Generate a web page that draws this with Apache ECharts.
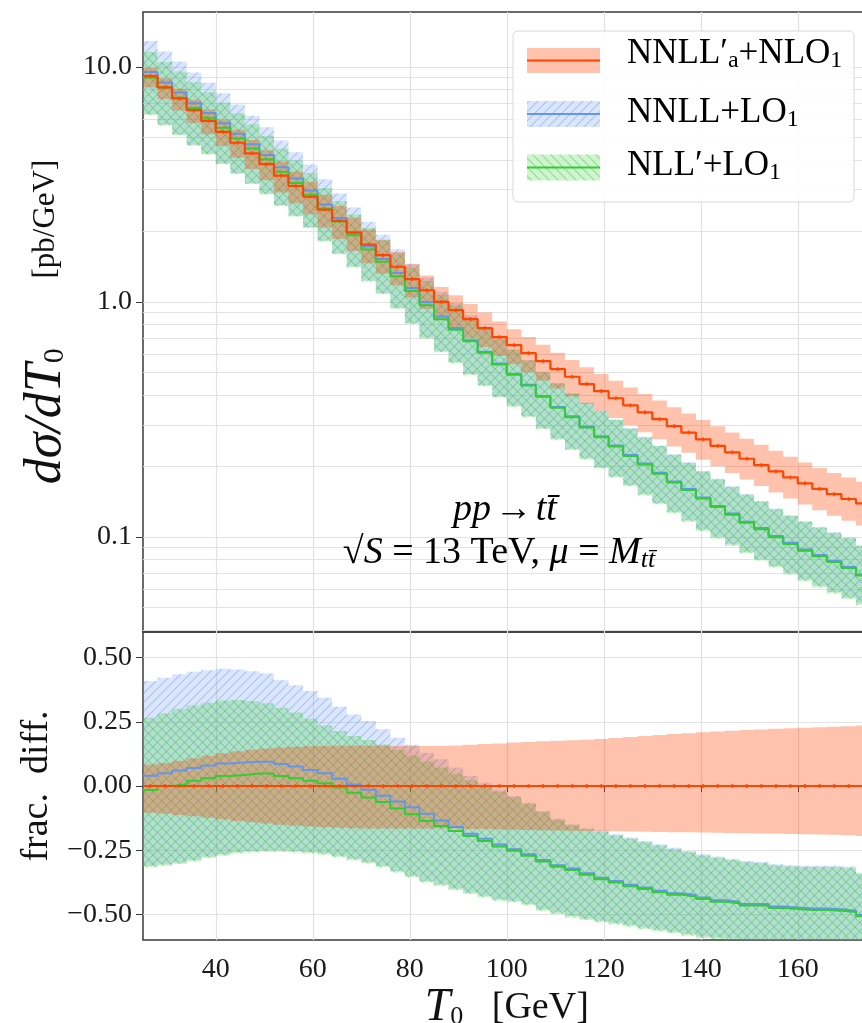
<!DOCTYPE html>
<html>
<head>
<meta charset="utf-8">
<script src="https://cdn.jsdelivr.net/npm/echarts@6/dist/echarts.min.js"></script>
<style>
  html, body { margin: 0; padding: 0; background: #fff; }
  #chart { width: 862px; height: 1023px; }
</style>
</head>
<body>
<div id="chart"></div>
<script>
// bin left edges (GeV), 3 GeV bins
const binEdges = [25, 28, 31, 34, 37, 40, 43, 46, 49, 52, 55, 58, 61, 64, 67, 70, 73, 76, 79, 82,
  85, 88, 91, 94, 97, 100, 103, 106, 109, 112, 115, 118, 121, 124, 127, 130, 133, 136, 139, 142,
  145, 148, 151, 154, 157, 160, 163, 166, 169, 172];
const lastEdge = 175;

// NNLL'a+NLO1 central value, pb/GeV (reference curve)
const refCentral = [9.13, 8.17, 7.34, 6.54, 5.89, 5.29, 4.75, 4.28, 3.85, 3.44,
  3.11, 2.80, 2.47, 2.21, 1.97, 1.75, 1.58, 1.41, 1.25, 1.12,
  1.00, 0.922, 0.844, 0.773, 0.708, 0.654, 0.605, 0.559, 0.517, 0.480,
  0.447, 0.417, 0.389, 0.363, 0.339, 0.317, 0.296, 0.278, 0.260, 0.244,
  0.229, 0.215, 0.202, 0.190, 0.179, 0.169, 0.160, 0.152, 0.145, 0.139];

// fractional differences w.r.t. refCentral (lower panel)
const refUp = [0.084, 0.090, 0.098, 0.108, 0.118, 0.128, 0.135, 0.141, 0.146, 0.150,
  0.153, 0.155, 0.156, 0.157, 0.157, 0.157, 0.157, 0.156, 0.156, 0.156,
  0.156, 0.158, 0.161, 0.164, 0.166, 0.169, 0.171, 0.174, 0.176, 0.178,
  0.180, 0.183, 0.187, 0.191, 0.195, 0.199, 0.203, 0.206, 0.209, 0.212,
  0.215, 0.218, 0.220, 0.223, 0.225, 0.227, 0.229, 0.231, 0.233, 0.236];
const refDown = [-0.104, -0.108, -0.113, -0.118, -0.124, -0.130, -0.136, -0.141, -0.146, -0.151,
  -0.155, -0.158, -0.161, -0.163, -0.165, -0.166, -0.166, -0.166, -0.166, -0.166,
  -0.166, -0.167, -0.168, -0.168, -0.169, -0.170, -0.171, -0.172, -0.173, -0.174,
  -0.175, -0.175, -0.176, -0.177, -0.178, -0.179, -0.180, -0.180, -0.181, -0.182,
  -0.183, -0.184, -0.185, -0.186, -0.187, -0.188, -0.189, -0.190, -0.192, -0.195];

const nnllCentral = [0.040, 0.050, 0.060, 0.070, 0.080, 0.088, 0.092, 0.094, 0.094, 0.086,
  0.076, 0.062, 0.050, 0.028, 0.006, -0.015, -0.038, -0.060, -0.083, -0.108,
  -0.134, -0.160, -0.186, -0.206, -0.228, -0.246, -0.266, -0.288, -0.309, -0.321,
  -0.340, -0.357, -0.370, -0.385, -0.395, -0.408, -0.418, -0.425, -0.434, -0.445,
  -0.451, -0.460, -0.460, -0.469, -0.473, -0.477, -0.477, -0.480, -0.486, -0.503];
const nnllUp = [0.409, 0.422, 0.435, 0.445, 0.451, 0.457, 0.454, 0.447, 0.438, 0.412,
  0.393, 0.370, 0.344, 0.309, 0.279, 0.253, 0.221, 0.188, 0.161, 0.130,
  0.104, 0.072, 0.039, 0.013, -0.015, -0.039, -0.065, -0.097, -0.127, -0.149,
  -0.165, -0.172, -0.188, -0.201, -0.214, -0.227, -0.241, -0.253, -0.266, -0.275,
  -0.283, -0.292, -0.296, -0.305, -0.309, -0.311, -0.311, -0.311, -0.314, -0.337];
const nnllDown = [-0.311, -0.305, -0.298, -0.288, -0.275, -0.266, -0.257, -0.253, -0.250, -0.250,
  -0.253, -0.257, -0.262, -0.272, -0.283, -0.296, -0.311, -0.331, -0.350, -0.370,
  -0.383, -0.399, -0.415, -0.428, -0.441, -0.447, -0.460, -0.480, -0.493, -0.506,
  -0.516, -0.525, -0.534, -0.542, -0.551, -0.560, -0.568, -0.577, -0.586, -0.590,
  -0.594, -0.598, -0.601, -0.604, -0.607, -0.610, -0.613, -0.616, -0.619, -0.625];

const nllCentral = [-0.016, 0.000, 0.007, 0.020, 0.030, 0.039, 0.043, 0.049, 0.049, 0.039,
  0.030, 0.020, 0.011, -0.006, -0.026, -0.045, -0.062, -0.088, -0.110, -0.136,
  -0.156, -0.175, -0.195, -0.214, -0.236, -0.252, -0.272, -0.294, -0.315, -0.327,
  -0.346, -0.363, -0.376, -0.391, -0.401, -0.414, -0.424, -0.431, -0.440, -0.451,
  -0.457, -0.466, -0.466, -0.475, -0.479, -0.483, -0.483, -0.486, -0.491, -0.507];
const nllUp = [0.266, 0.283, 0.301, 0.314, 0.324, 0.333, 0.335, 0.331, 0.322, 0.305,
  0.286, 0.262, 0.236, 0.214, 0.195, 0.179, 0.162, 0.140, 0.118, 0.095,
  0.072, 0.048, 0.022, 0.000, -0.022, -0.044, -0.070, -0.102, -0.132, -0.154,
  -0.170, -0.177, -0.193, -0.206, -0.219, -0.232, -0.246, -0.258, -0.271, -0.280,
  -0.288, -0.297, -0.301, -0.310, -0.314, -0.316, -0.316, -0.316, -0.319, -0.342];
const nllDown = [-0.317, -0.311, -0.304, -0.294, -0.281, -0.272, -0.263, -0.259, -0.256, -0.256,
  -0.259, -0.263, -0.268, -0.278, -0.289, -0.302, -0.317, -0.337, -0.356, -0.376,
  -0.389, -0.405, -0.421, -0.434, -0.447, -0.453, -0.466, -0.486, -0.499, -0.512,
  -0.522, -0.531, -0.540, -0.548, -0.557, -0.566, -0.574, -0.583, -0.592, -0.596,
  -0.600, -0.604, -0.607, -0.610, -0.613, -0.616, -0.619, -0.622, -0.625, -0.631];

// ticks
const xTicks = [40, 60, 80, 100, 120, 140, 160];
const topMajorTicks = [0.1, 1, 10];
const topMinorTicks = [0.04, 0.05, 0.06, 0.07, 0.08, 0.09, 0.2, 0.3, 0.4, 0.5, 0.6, 0.7, 0.8, 0.9,
  2, 3, 4, 5, 6, 7, 8, 9];
const ratioTicks = [-0.5, -0.25, 0, 0.25, 0.5];

const FONT = '"Liberation Serif", "DejaVu Serif", serif';
const ORANGE = '#FF4500', BLUE = '#6495ED', GREEN = '#32CD32';
const FRAME = '#3a3a3a', GRIDC = '#e2e2e2', INK = '#111';

function hatch(bg, fg, dir) {
  const s = 9, c = document.createElement('canvas');
  c.width = s; c.height = s;
  const g = c.getContext('2d');
  g.fillStyle = bg; g.fillRect(0, 0, s, s);
  g.strokeStyle = fg; g.lineWidth = 1.1;
  g.beginPath();
  if (dir > 0) {
    g.moveTo(-1, s + 1); g.lineTo(s + 1, -1);
    g.moveTo(-1, 1); g.lineTo(1, -1);
    g.moveTo(s - 1, s + 1); g.lineTo(s + 1, s - 1);
  } else {
    g.moveTo(-1, -1); g.lineTo(s + 1, s + 1);
    g.moveTo(s - 1, -1); g.lineTo(s + 1, 1);
    g.moveTo(-1, s - 1); g.lineTo(1, s + 1);
  }
  g.stroke();
  return { image: c, repeat: 'repeat' };
}

const blueFill = hatch('rgba(100,149,237,0.23)', 'rgba(100,149,237,0.45)', 1);
const greenFill = hatch('rgba(50,205,50,0.23)', 'rgba(50,205,50,0.45)', -1);
const orangeFill = 'rgba(255,69,0,0.32)';

const steps = vals => binEdges.map((e, i) => [e, vals[i]]).concat([[lastEdge, vals[vals.length - 1]]]);
const onRef = frac => refCentral.map((r, i) => r * (1 + frac[i]));
const refRatio = refCentral.map(r => r / r - 1);
const binEnd = i => (i + 1 < binEdges.length ? binEdges[i + 1] : lastEdge);

// filled band between lo and hi, drawn as one stepped polygon through the axis scales
function band(lo, hi, xi, yi, fill) {
  return {
    type: 'custom', xAxisIndex: xi, yAxisIndex: yi, silent: true, clip: true,
    data: binEdges.map((e, i) => [e, lo[i], hi[i]]),
    encode: { x: 0, y: [1, 2] },
    renderItem: function (params, api) {
      if (params.dataIndex !== 0) return null;
      const top = [], bot = [];
      for (let i = 0; i < binEdges.length; i++) {
        top.push(api.coord([binEdges[i], hi[i]]), api.coord([binEnd(i), hi[i]]));
        bot.push(api.coord([binEdges[i], lo[i]]), api.coord([binEnd(i), lo[i]]));
      }
      return { type: 'polygon', shape: { points: top.concat(bot.reverse()) }, style: { fill: fill } };
    }
  };
}
function curve(vals, xi, yi, color, w) {
  return { type: 'line', xAxisIndex: xi, yAxisIndex: yi, step: 'end', symbol: 'none', silent: true,
    lineStyle: { color: color, width: w }, data: steps(vals) };
}
function marks(vals, xi, yi) {
  return { type: 'scatter', xAxisIndex: xi, yAxisIndex: yi, symbol: 'rect', symbolSize: [2, 4],
    silent: true, itemStyle: { color: ORANGE }, data: binEdges.map((e, i) => [e + 1.5, vals[i]]) };
}

const labelFont = { fontFamily: FONT, fontSize: 28, color: '#1a1a1a' };
const fmtTop = v => (v >= 1 ? v.toFixed(1) : String(v));
const fmtRatio = v => v.toFixed(2).replace('-', '\u2212');

const xBase = i => ({
  type: 'value', gridIndex: i, min: 25, max: lastEdge,
  axisLine: { show: false },
  axisTick: { show: i === 1, customValues: xTicks, length: 6, lineStyle: { color: FRAME } },
  axisLabel: Object.assign({ show: i === 1, customValues: xTicks, margin: 16 }, labelFont),
  splitLine: { show: true, lineStyle: { color: GRIDC, width: 1.2 } }
});

const subRich = (size, main, sub, drop) => ({
  m: { fontFamily: FONT, fontSize: size, lineHeight: main, color: INK },
  i: { fontFamily: FONT, fontStyle: 'italic', fontSize: size, lineHeight: main, color: INK },
  s: { fontFamily: FONT, fontSize: sub, lineHeight: drop, verticalAlign: 'bottom', color: INK },
  si: { fontFamily: FONT, fontStyle: 'italic', fontSize: sub, lineHeight: drop, verticalAlign: 'bottom', color: INK }
});

const chart = echarts.init(document.getElementById('chart'));
chart.setOption({
  animation: false,
  backgroundColor: '#fff',
  grid: [
    { left: 143, top: 12, width: 727.5, height: 620, show: true, borderColor: FRAME, borderWidth: 1.5,
      outerBoundsMode: 'none' },
    { left: 143, top: 632, width: 727.5, height: 308, show: true, borderColor: FRAME, borderWidth: 1.5,
      outerBoundsMode: 'none' }
  ],
  xAxis: [
    xBase(0),
    Object.assign(xBase(1), {
      name: '{t|T}{s|0}{n|   [GeV]}', nameLocation: 'middle', nameGap: 36,
      nameTextStyle: { fontFamily: FONT, color: INK, rich: {
        t: { fontFamily: FONT, fontStyle: 'italic', fontSize: 46, lineHeight: 44, color: INK },
        s: { fontFamily: FONT, fontSize: 26, lineHeight: 24, verticalAlign: 'bottom', color: INK },
        n: { fontFamily: FONT, fontSize: 38, lineHeight: 44, color: INK } } }
    })
  ],
  yAxis: [
    { type: 'log', gridIndex: 0, min: 0.0394, max: 17.1,
      axisLine: { show: false },
      axisTick: { customValues: topMajorTicks, length: 7, lineStyle: { color: FRAME } },
      axisLabel: Object.assign({ customValues: topMajorTicks, formatter: fmtTop, margin: 11 }, labelFont),
      splitLine: { show: true, lineStyle: { color: GRIDC, width: 1.2 } },
      name: '{i|d\u03c3/d}{t|T}{s|0}{n|         [pb/GeV]}', nameLocation: 'middle', nameRotate: 90, nameGap: 56,
      nameTextStyle: { fontFamily: FONT, color: INK, rich: {
        i: { fontFamily: FONT, fontStyle: 'italic', fontSize: 52, lineHeight: 48, color: INK },
        t: { fontFamily: FONT, fontStyle: 'italic', fontSize: 52, lineHeight: 48, color: INK },
        s: { fontFamily: FONT, fontSize: 30, lineHeight: 26, verticalAlign: 'bottom', color: INK },
        n: { fontFamily: FONT, fontSize: 31, lineHeight: 48, color: INK } } }
    },
    { type: 'log', gridIndex: 0, min: 0.0394, max: 17.1,
      axisLine: { show: false },
      axisTick: { customValues: topMinorTicks, length: 4, lineStyle: { color: FRAME } },
      axisLabel: { show: false, customValues: topMinorTicks },
      splitLine: { show: true, lineStyle: { color: GRIDC, width: 1.2 } }
    },
    { type: 'value', gridIndex: 1, min: -0.6, max: 0.6,
      axisLine: { show: false },
      axisTick: { customValues: ratioTicks, length: 7, lineStyle: { color: FRAME } },
      axisLabel: Object.assign({ customValues: ratioTicks, formatter: fmtRatio, margin: 11 }, labelFont),
      splitLine: { show: true, lineStyle: { color: GRIDC, width: 1.2 } },
      name: 'frac.  diff.', nameLocation: 'middle', nameRotate: 90, nameGap: 75,
      nameTextStyle: { fontFamily: FONT, fontSize: 38, color: INK }
    }
  ],
  series: [
    band(onRef(nnllDown), onRef(nnllUp), 0, 0, blueFill),
    band(onRef(nllDown), onRef(nllUp), 0, 0, greenFill),
    curve(onRef(nnllCentral), 0, 0, BLUE, 2),
    curve(onRef(nllCentral), 0, 0, GREEN, 2),
    band(onRef(refDown), onRef(refUp), 0, 0, orangeFill),
    curve(refCentral, 0, 0, ORANGE, 2.2),
    marks(refCentral, 0, 0),

    band(nnllDown, nnllUp, 1, 2, blueFill),
    band(nllDown, nllUp, 1, 2, greenFill),
    curve(nnllCentral, 1, 2, BLUE, 2),
    curve(nllCentral, 1, 2, GREEN, 2),
    band(refDown, refUp, 1, 2, orangeFill),
    curve(refRatio, 1, 2, ORANGE, 2.2),
    marks(refRatio, 1, 2)
  ],
  graphic: [
    { type: 'rect', z: 100, shape: { x: 513, y: 31, width: 341, height: 171, r: 5 },
      style: { fill: 'rgba(255,255,255,0.85)', stroke: '#d8d8d8', lineWidth: 1 } },
    { type: 'rect', z: 101, shape: { x: 527, y: 48, width: 73, height: 25 }, style: { fill: orangeFill } },
    { type: 'line', z: 102, shape: { x1: 527, y1: 60.5, x2: 600, y2: 60.5 }, style: { stroke: ORANGE, lineWidth: 2 } },
    { type: 'rect', z: 101, shape: { x: 527, y: 101, width: 73, height: 26 }, style: { fill: blueFill } },
    { type: 'line', z: 102, shape: { x1: 527, y1: 114, x2: 600, y2: 114 }, style: { stroke: BLUE, lineWidth: 2 } },
    { type: 'rect', z: 101, shape: { x: 527, y: 154.5, width: 73, height: 26 }, style: { fill: greenFill } },
    { type: 'line', z: 102, shape: { x1: 527, y1: 167.5, x2: 600, y2: 167.5 }, style: { stroke: GREEN, lineWidth: 2 } },
    { type: 'text', z: 102, x: 627, y: 54, style: {
      text: '{m|NNLL\u2032}{s|a}{m|+NLO}{s|1}', verticalAlign: 'middle', rich: subRich(35, 38, 24, 20) } },
    { type: 'text', z: 102, x: 627, y: 113, style: {
      text: '{m|NNLL+LO}{s|1}', verticalAlign: 'middle', rich: subRich(35, 38, 24, 20) } },
    { type: 'text', z: 102, x: 627, y: 166, style: {
      text: '{m|NLL\u2032+LO}{s|1}', verticalAlign: 'middle', rich: subRich(35, 38, 24, 20) } },
    { type: 'text', z: 102, x: 505, y: 510, style: {
      text: '{i|pp} {m|\u2192} {i|tt\u0304}', align: 'center', verticalAlign: 'middle', rich: subRich(38, 40, 26, 22) } },
    { type: 'text', z: 102, x: 499, y: 553, style: {
      text: '{m|\u221a}{i|S}{m| = 13 TeV, }{i|\u03bc}{m| = }{i|M}{si|tt\u0304}',
      align: 'center', verticalAlign: 'middle', rich: subRich(38, 40, 26, 22) } }
  ]
});
</script>
</body>
</html>
